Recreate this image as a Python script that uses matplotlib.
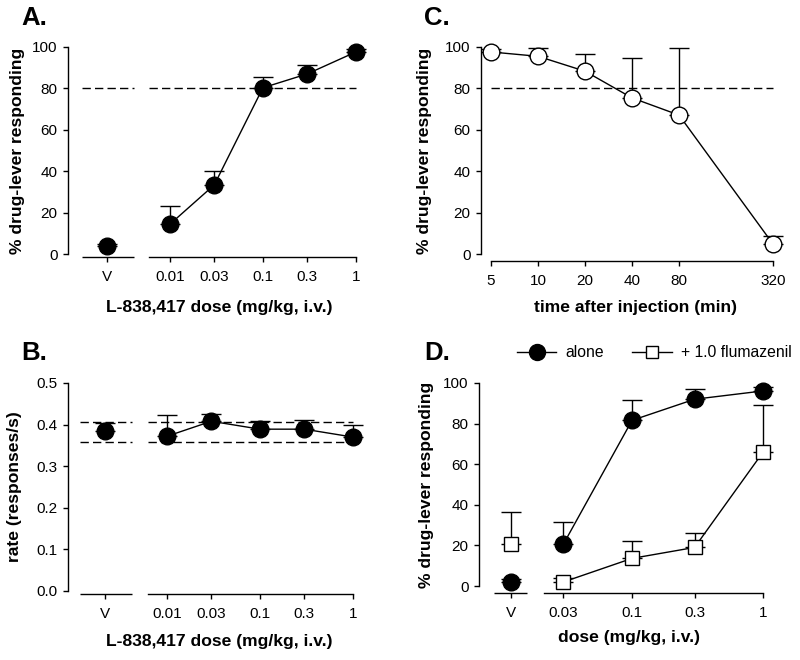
import numpy as np
import matplotlib
matplotlib.use('Agg')
import matplotlib.pyplot as plt
from matplotlib.lines import Line2D
from matplotlib.ticker import NullLocator

plt.rcParams['font.family'] = ['Liberation Sans', 'DejaVu Sans']

# ---------------- data ----------------
# Panel A: % drug-lever responding vs L-838,417 dose
A_doses = [0.01, 0.03, 0.1, 0.3, 1]
A_mean = [14.4, 33.4, 80.3, 87.0, 97.6]
A_err = [8.7, 6.7, 5.3, 4.5, 1.3]
A_V_mean = 3.7
A_V_err = 1.0
A_crit = 80

# Panel B: response rate
B_doses = [0.01, 0.03, 0.1, 0.3, 1]
B_mean = [0.372, 0.408, 0.389, 0.389, 0.370]
B_err = [0.050, 0.018, 0.020, 0.021, 0.029]
B_V_mean = 0.384
B_V_err = 0.019
B_ref = [0.406, 0.358]

# Panel C: time course
C_time = [5, 10, 20, 40, 80, 320]
C_mean = [97.6, 95.5, 88.3, 75.4, 67.1, 4.8]
C_err = [1.5, 4.0, 8.2, 19.5, 32.6, 4.0]
C_crit = 80

# Panel D: alone vs + flumazenil
D_doses = [0.03, 0.1, 0.3, 1]
D_alone = [20.7, 81.6, 92.0, 96.1]
D_alone_err = [10.7, 9.9, 4.9, 2.0]
D_alone_V = 2.0
D_alone_V_err = 1.6
D_flu = [2.0, 13.6, 19.0, 66.0]
D_flu_err = [2.0, 8.7, 7.1, 23.2]
D_flu_V = 20.5
D_flu_V_err = 15.8

dose_labels_AB = ['V', '0.01', '0.03', '0.1', '0.3', '1']
dose_labels_D = ['V', '0.03', '0.1', '0.3', '1']
time_labels = ['5', '10', '20', '40', '80', '320']

# ---------------- layout ----------------
W, H = 800, 660
fig = plt.figure(figsize=(W / 100, H / 100), dpi=100)


def add_axes(l, r, t, b):
    return fig.add_axes([l / W, (H - b) / H, (r - l) / W, (b - t) / H])


def style(ax, xlim, ylim, offset, segments, ticks, labels, yticks, yfmt,
          xlabel, ylabel, xlab_y, ylab_x, xpad=6):
    ax.set_xscale('log')
    ax.set_xlim(xlim)
    ax.set_ylim(ylim)
    for s in ['top', 'right']:
        ax.spines[s].set_visible(False)
    ax.spines['left'].set_linewidth(1)
    ax.spines['bottom'].set_linewidth(1)
    ax.spines['bottom'].set_position(('outward', offset))
    ax.spines['bottom'].set_bounds(*segments[-1])
    for seg in segments[:-1]:
        ax.plot(seg, [0, 0], transform=ax.spines['bottom'].get_spine_transform(),
                color='k', lw=1, clip_on=False, solid_capstyle='butt')
    ax.xaxis.set_minor_locator(NullLocator())
    ax.set_xticks(ticks)
    ax.set_xticklabels(labels)
    ax.set_yticks(yticks)
    ax.set_yticklabels([yfmt.format(v) for v in yticks])
    ax.tick_params(direction='out', length=3.5, width=1, labelsize=11, color='k')
    ax.tick_params(axis='x', pad=xpad)
    ax.tick_params(axis='y', pad=4)
    ax.set_xlabel(xlabel, fontsize=12.6, fontweight='bold')
    ax.set_ylabel(ylabel, fontsize=12.6, fontweight='bold')
    ax.xaxis.set_label_coords(0.5, xlab_y)
    ax.yaxis.set_label_coords(ylab_x, 0.5)


def series(ax, x, y, err, marker, ms, face, connect=True):
    x = np.atleast_1d(x)
    y = np.atleast_1d(y)
    err = np.atleast_1d(err)
    ax.errorbar(x, y, yerr=[np.zeros_like(err), err], fmt='none', ecolor='k',
                elinewidth=1, capsize=7.5, capthick=1, zorder=2, clip_on=False)
    if connect:
        ax.plot(x, y, '-', color='k', lw=1, zorder=3, clip_on=False)
    ax.plot(x, y, linestyle='none', marker=marker, ms=ms, mfc=face, mec='k',
            mew=1, zorder=4, clip_on=False)


# ----- Panel A -----
axA = add_axes(68, 370, 47, 254)
A_Vx = 0.0021
A_segs = [(0.00113, 0.0041), (0.0059, 1.0)]
for seg in A_segs:
    axA.hlines(A_crit, *seg, colors='k', linestyles=(0, (6, 3)), lw=1, zorder=1)
series(axA, A_doses, A_mean, A_err, 'o', 12, 'k')
series(axA, A_Vx, A_V_mean, A_V_err, 'o', 12, 'k', connect=False)
style(axA, (0.0008, 1.42), (0, 100), 2.2, A_segs, [A_Vx] + A_doses, dose_labels_AB,
      [0, 20, 40, 60, 80, 100], '{:g}', 'L-838,417 dose (mg/kg, i.v.)',
      '% drug-lever responding', -0.222, -0.142)

# ----- Panel B -----
axB = add_axes(68, 370, 383, 591)
B_Vx = 0.00215
B_segs = [(0.00116, 0.0042), (0.0063, 1.0)]
for seg in B_segs:
    for r in B_ref:
        axB.hlines(r, *seg, colors='k', linestyles=(0, (6, 3)), lw=1, zorder=1)
series(axB, B_doses, B_mean, B_err, 'o', 12, 'k')
series(axB, B_Vx, B_V_mean, B_V_err, 'o', 12, 'k', connect=False)
style(axB, (0.000863, 1.523), (0, 0.5), 2.2, B_segs, [B_Vx] + B_doses, dose_labels_AB,
      [0.0, 0.1, 0.2, 0.3, 0.4, 0.5], '{:.1f}', 'L-838,417 dose (mg/kg, i.v.)',
      'rate (responses/s)', -0.207, -0.152)

# ----- Panel C -----
axC = add_axes(481, 790, 47, 254)
C_segs = [(5, 320)]
axC.hlines(C_crit, *C_segs[0], colors='k', linestyles=(0, (6, 3)), lw=1, zorder=1)
series(axC, C_time, C_mean, C_err, 'o', 12, 'w')
style(axC, (4.31, 411), (0, 100), 5, C_segs, C_time, time_labels,
      [0, 20, 40, 60, 80, 100], '{:g}', 'time after injection (min)',
      '% drug-lever responding', -0.222, -0.159)

# ----- Panel D -----
axD = add_axes(479, 780, 383, 586)
D_Vx = 0.0119
D_segs = [(0.00885, 0.0157), (0.0212, 1.0)]
series(axD, D_doses, D_alone, D_alone_err, 'o', 12, 'k')
series(axD, D_Vx, D_alone_V, D_alone_V_err, 'o', 12, 'k', connect=False)
series(axD, D_doses, D_flu, D_flu_err, 's', 10.5, 'w')
series(axD, D_Vx, D_flu_V, D_flu_V_err, 's', 10.5, 'w', connect=False)
style(axD, (0.0068, 1.345), (0, 100), 5, D_segs, [D_Vx] + D_doses, dose_labels_D,
      [0, 20, 40, 60, 80, 100], '{:g}', 'dose (mg/kg, i.v.)',
      '% drug-lever responding', -0.216, -0.148)

h1 = Line2D([], [], color='k', lw=1, marker='o', ms=11.5, mfc='k', mec='k')
h2 = Line2D([], [], color='k', lw=1, marker='s', ms=8, mfc='w', mec='k')
axD.legend([h1, h2], ['alone', '+ 1.0 flumazenil'], loc='center left',
           bbox_to_anchor=(0.126, 1.148), ncol=2, frameon=False,
           handlelength=2.5, handletextpad=0.6, columnspacing=1.8,
           borderpad=0, borderaxespad=0, fontsize=11.3)

# panel letters
for letter, (px, py) in {'A.': (21, 25), 'B.': (21, 360),
                         'C.': (424, 25), 'D.': (424, 360)}.items():
    fig.text(px / W, (H - py) / H, letter, fontsize=18.5, fontweight='bold',
             ha='left', va='baseline')

fig.savefig('out.png', dpi=100)
